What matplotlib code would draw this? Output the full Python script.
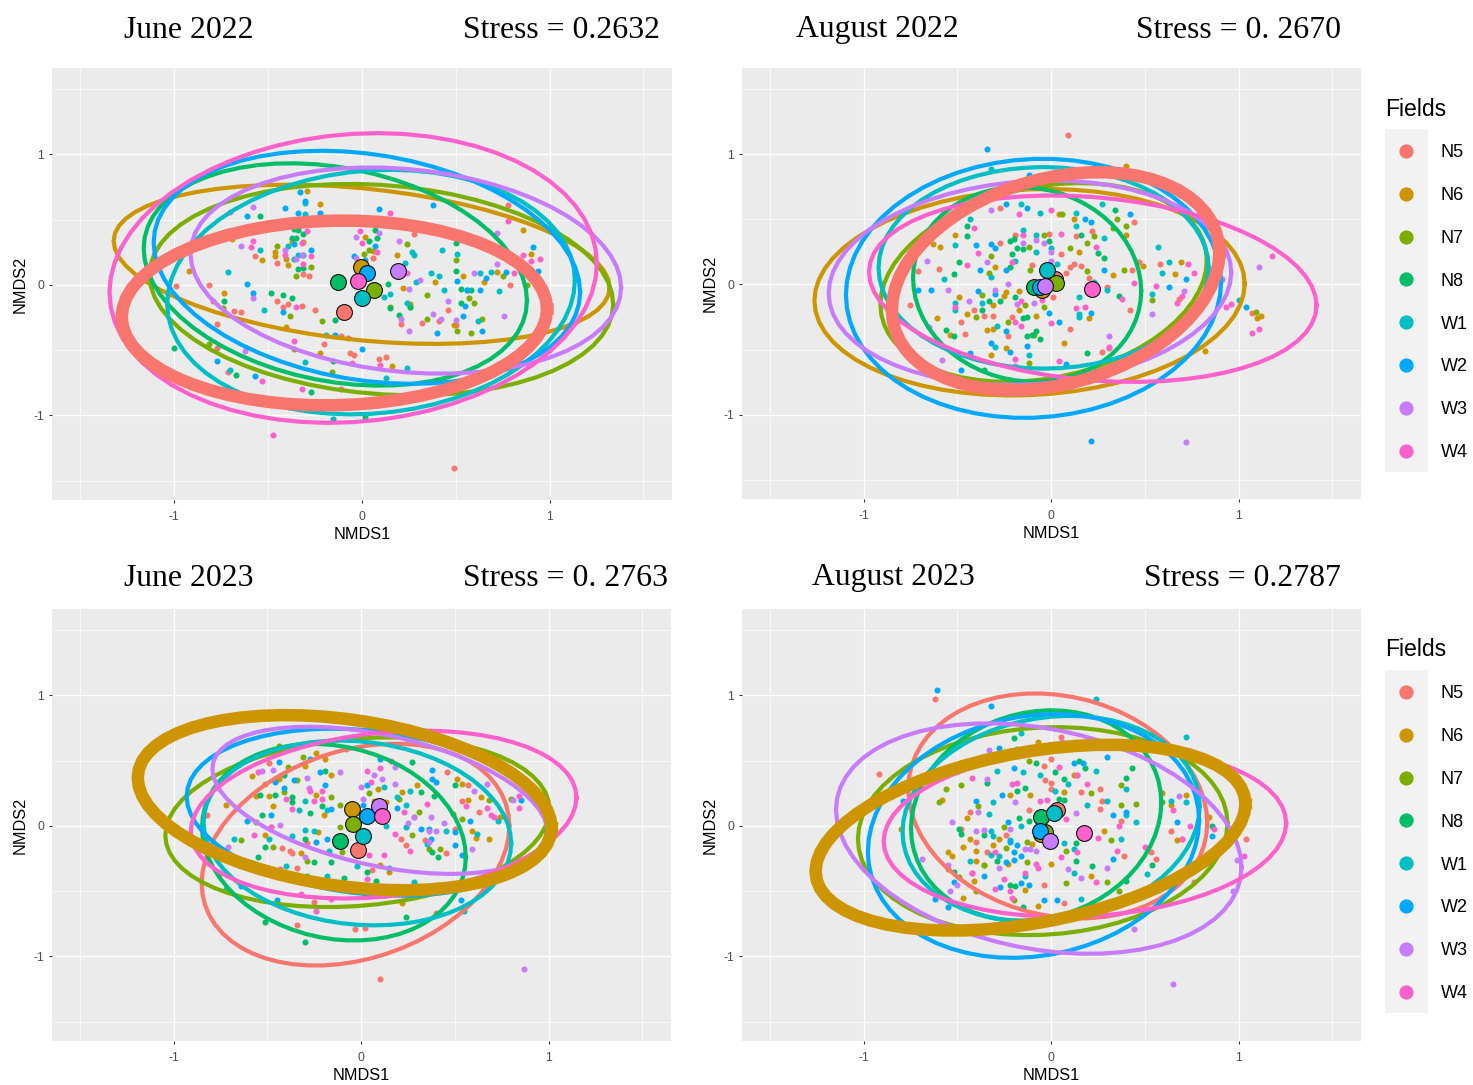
import numpy as np
import matplotlib
matplotlib.use("Agg")
import matplotlib.pyplot as plt

W, H = 1473, 1085

fields = ['N5', 'N6', 'N7', 'N8', 'W1', 'W2', 'W3', 'W4']
colours = ['#F8766D', '#CD9600', '#7CAE00', '#00BE67',
           '#00BFC4', '#00A9FF', '#C77CFF', '#FF61CC']

# June 2022
jun22_N5 = [(-0.99,-0.01),(-0.81,0.0),(-0.79,-0.12),(-0.68,-0.20),(-0.64,-0.21),(-0.77,-0.30),(-0.77,-0.48),(-0.71,-0.67),(-0.45,-0.12),(-0.42,-0.17),(-0.39,-0.15),(-0.32,-0.16),(-0.25,-0.19),(-0.45,0.17),(-0.57,0.22),(-0.28,0.07),(-0.31,0.08),(-0.20,-0.45),(-0.11,-0.39),(-0.07,-0.41),(-0.06,-0.52),(-0.04,-0.54),(0.09,-0.57),(0.13,-0.55),(0.21,-0.30),(0.32,-0.29),(0.41,-0.28),(0.46,-0.19),(0.50,-0.31),(0.49,-1.40),(0.28,0.39),(0.06,0.21),(0.79,0.0),(0.78,0.61)]
jun22_N6 = [(-0.92,0.11),(-0.73,-0.06),(-0.69,0.35),(-0.67,0.68),(-0.53,0.19),(-0.46,0.25),(-0.46,0.22),(-0.40,0.20),(-0.39,0.15),(-0.37,0.33),(-0.31,0.33),(-0.29,0.72),(-0.22,0.62),(0.02,0.37),(0.06,0.26),(0.19,0.23),(0.22,-0.02),(0.26,-0.15),(0.39,0.02),(0.54,0.07),(0.65,0.02),(0.72,0.10),(0.86,0.42),(0.90,0.24),(-0.22,-0.52),(0.16,-0.62),(-0.40,-0.32),(0.49,-0.31)]
jun22_N7 = [(-0.74,-0.18),(-0.45,0.30),(-0.38,-0.24),(-0.35,0.07),(-0.27,0.14),(-0.21,-0.28),(0.01,0.24),(0.15,-0.17),(0.24,0.31),(0.26,-0.17),(0.35,-0.08),(0.35,-0.26),(0.50,0.19),(0.57,-0.10),(0.60,-0.14),(0.58,-0.37),(0.51,-0.35),(0.64,-0.26),(0.75,0.07),(0.88,0.0),(-0.81,-0.45),(-0.36,-0.49),(-0.16,-0.67),(0.04,0.27)]
jun22_N8 = [(-1.00,-0.48),(-0.73,-0.12),(-0.67,-0.69),(-0.54,0.53),(-0.48,-0.06),(-0.42,-0.08),(-0.37,-0.10),(-0.36,0.43),(-0.34,0.42),(-0.37,0.36),(-0.35,0.36),(-0.31,0.39),(-0.34,0.12),(-0.31,0.13),(-0.27,-0.82),(-0.14,-0.27),(0.07,0.42),(0.08,0.36),(0.04,0.34),(0.14,0.01),(0.15,-0.18),(0.20,-0.23),(0.26,-0.17),(0.50,0.32),(0.50,0.11),(0.53,-0.03),(0.58,-0.04),(0.53,-0.14),(0.02,-1.01),(-0.15,-0.58)]
jun22_W1 = [(-0.71,0.10),(-0.54,0.27),(-0.70,-0.65),(-0.52,-0.19),(-0.39,0.30),(-0.36,0.20),(-0.34,0.23),(-0.31,0.23),(-0.30,0.54),(-0.19,-0.38),(-0.30,-0.59),(0.12,-0.09),(0.15,-0.07),(0.24,-0.14),(0.23,0.17),(0.27,0.25),(0.28,0.23),(0.29,0.02),(0.37,0.09),(0.41,0.07),(0.43,0.27),(0.44,-0.04),(0.51,0.24),(0.56,-0.04),(0.63,0.09),(0.69,0.10),(0.73,-0.05),(0.62,-0.28),(0.13,-0.71),(0.24,-0.64),(-0.15,-1.03),(-0.30,0.63)]
jun22_W2 = [(-0.61,0.01),(-0.61,0.53),(-0.58,-0.06),(-0.41,0.59),(-0.42,-0.21),(-0.30,0.64),(-0.33,0.71),(-0.34,0.55),(-0.36,0.31),(-0.27,0.27),(-0.77,-0.58),(-0.57,-0.70),(-0.14,-0.38),(0.0,-0.49),(0.09,0.58),(-0.04,0.22),(0.07,0.30),(0.02,0.19),(0.38,0.61),(0.40,-0.37),(0.51,0.03),(0.54,-0.24),(0.55,-0.16),(0.56,-0.04),(0.63,-0.04),(0.64,-0.35),(0.66,0.05),(0.77,0.10),(0.91,0.29),(0.94,0.11),(-0.22,0.55)]
jun22_W3 = [(-0.58,0.60),(-0.64,0.30),(-0.58,-0.10),(-0.41,0.27),(-0.32,0.23),(-0.03,0.37),(-0.03,0.21),(0.09,0.40),(0.20,0.34),(0.25,-0.03),(0.31,0.04),(0.21,-0.26),(0.25,-0.35),(0.38,-0.22),(0.42,-0.26),(0.46,-0.12),(0.50,-0.27),(0.60,0.09),(0.72,0.16),(0.76,-0.24),(-0.62,-0.51),(-0.35,0.20),(0.72,0.40)]
jun22_W4 = [(-0.59,0.29),(-0.58,0.34),(-0.41,0.23),(-0.31,0.16),(-0.32,0.32),(-0.27,0.22),(-0.29,0.41),(-0.01,0.41),(0.0,0.32),(0.08,0.25),(0.15,0.55),(0.24,0.09),(-0.35,-0.17),(-0.36,-0.43),(-0.53,-0.74),(-0.32,-0.80),(-0.47,-1.15),(-0.05,-0.60),(0.10,-0.61),(0.78,0.49),(0.86,0.23),(0.90,0.18),(0.95,0.20),(0.81,0.09),(-0.11,-0.80),(-0.70,0.56)]
jun22_mean_x = [-0.096, -0.004, 0.064, -0.124, 0.004, 0.03, 0.192, -0.019]
jun22_mean_y = [-0.211, 0.14, -0.041, 0.025, -0.104, 0.094, 0.104, 0.028]
jun22_ell_x = [-0.145, 0.0, 0.105, -0.14, 0.05, 0.028, 0.235, -0.045]
jun22_ell_y = [-0.215, 0.158, -0.036, 0.08, -0.055, 0.135, 0.11, 0.053]
jun22_ell_rx = [1.132, 1.32, 1.234, 1.02, 1.085, 1.135, 1.146, 1.297]
jun22_ell_ry = [0.708, 0.61, 0.81, 0.852, 0.937, 0.893, 0.79, 1.11]
jun22_ell_k = [0.03, -0.178, -0.112, -0.2, 0.09, -0.19, -0.13, 0.11]

# August 2022
aug22_N5 = [(0.09,1.15),(-0.75,-0.16),(-0.71,0.10),(-0.60,0.12),(-0.48,-0.29),(-0.46,-0.38),(-0.41,-0.20),(-0.36,-0.24),(-0.31,-0.24),(-0.27,0.32),(-0.27,0.59),(-0.19,0.38),(-0.23,-0.40),(-0.21,-0.25),(-0.10,0.15),(-0.01,0.39),(0.01,-0.10),(0.05,0.23),(0.08,0.09),(0.10,0.13),(0.12,0.16),(0.13,0.37),(0.16,0.14),(0.10,-0.34),(0.20,0.05),(0.22,0.41),(0.27,-0.52),(0.31,-0.49),(0.30,-0.02),(0.42,-0.20),(0.43,0.11),(0.44,0.48),(0.47,0.17),(0.58,0.16),(0.68,-0.11),(1.07,-0.22)]
aug22_N6 = [(-0.59,0.29),(-0.63,0.31),(-0.51,0.38),(-0.49,-0.10),(-0.61,-0.26),(-0.54,-0.39),(-0.45,-0.23),(-0.34,-0.35),(-0.31,-0.34),(-0.32,-0.54),(-0.30,0.13),(-0.31,-0.16),(-0.25,-0.09),(-0.24,-0.06),(-0.17,-0.05),(-0.17,-0.20),(-0.24,-0.49),(-0.08,-0.24),(0.04,0.54),(0.12,0.50),(0.15,0.25),(0.07,-0.45),(0.20,-0.26),(0.33,0.07),(0.40,0.38),(0.40,0.91),(0.49,0.14),(0.66,0.08),(0.69,0.17),(0.82,-0.51),(1.10,-0.26),(1.12,-0.24)]
aug22_N7 = [(-0.37,-0.08),(-0.40,-0.25),(-0.33,0.09),(-0.32,0.22),(-0.23,-0.29),(-0.14,-0.16),(-0.12,0.29),(-0.11,0.11),(-0.04,0.38),(-0.04,-0.17),(0.06,0.54),(0.10,0.28),(0.19,0.32),(0.19,0.10),(0.23,0.37),(0.35,0.50),(0.33,0.43),(0.40,0.45),(0.39,0.11),(0.54,-0.12),(1.09,-0.21),(-0.12,-0.60),(-0.09,-0.39)]
aug22_N8 = [(-0.49,0.17),(-0.52,0.08),(-0.56,-0.35),(-0.52,-0.40),(-0.45,0.45),(-0.45,0.37),(-0.37,-0.20),(-0.36,-0.66),(-0.33,-0.13),(-0.27,-0.13),(-0.22,0.33),(-0.20,0.35),(-0.21,0.23),(-0.18,0.28),(-0.15,0.27),(-0.22,0.13),(-0.19,-0.10),(-0.15,-0.26),(-0.13,-0.25),(-0.13,-0.40),(-0.10,-0.39),(-0.06,-0.42),(-0.08,-0.36),(-0.01,0.33),(0.16,0.38),(0.25,0.24),(0.28,0.20),(0.19,-0.53),(0.36,-0.09),(0.34,0.57)]
aug22_W1 = [(-0.51,0.30),(-0.57,0.04),(-0.51,-0.14),(-0.51,-0.20),(-0.37,-0.14),(-0.43,0.50),(-0.32,0.06),(-0.29,-0.32),(-0.30,-0.48),(-0.19,0.18),(-0.15,0.42),(-0.16,0.62),(-0.08,0.25),(-0.08,0.38),(-0.06,0.55),(0.03,0.16),(0.0,0.28),(0.13,0.55),(0.13,0.45),(0.15,-0.10),(0.15,-0.23),(0.15,-0.25),(0.27,0.62),(0.28,0.36),(0.30,-0.04),(0.57,0.29),(0.59,0.09),(0.54,-0.07),(0.63,0.17),(1.0,-0.12),(-0.12,-0.54),(-0.32,0.89),(0.23,0.02)]
aug22_W2 = [(-0.34,1.04),(0.21,-1.20),(-0.71,-0.04),(-0.64,-0.04),(-0.40,0.30),(-0.32,0.31),(-0.30,0.28),(-0.38,0.11),(-0.39,-0.05),(-0.30,-0.07),(-0.24,0.11),(-0.24,0.62),(-0.13,0.59),(-0.12,0.84),(-0.32,-0.45),(-0.24,-0.36),(-0.22,-0.52),(-0.13,-0.47),(-0.01,-0.22),(0.04,-0.29),(0.08,-0.61),(0.18,0.50),(0.21,0.48),(0.21,-0.22),(0.28,0.11),(0.42,0.54),(0.63,-0.02),(0.72,0.04),(1.04,-0.17),(-0.48,-0.66),(-0.43,-0.53)]
aug22_W3 = [(0.72,-1.21),(-0.66,0.18),(-0.55,-0.04),(-0.44,-0.13),(-0.34,0.17),(-0.32,0.57),(-0.30,-0.04),(-0.23,0.0),(-0.18,-0.15),(-0.15,0.32),(-0.08,0.34),(-0.04,0.32),(-0.09,-0.14),(0.0,0.25),(0.0,0.18),(0.31,-0.40),(0.54,-0.23),(0.71,-0.05),(0.91,0.04),(1.11,0.13),(-0.58,-0.58),(-0.65,-0.33)]
aug22_W4 = [(-0.45,0.15),(-0.41,0.43),(-0.39,0.24),(-0.51,-0.17),(-0.21,0.17),(-0.17,0.54),(-0.15,0.38),(-0.19,-0.29),(-0.16,-0.32),(-0.16,-0.13),(-0.05,-0.12),(0.0,-0.30),(0.0,0.57),(0.05,0.39),(0.13,-0.18),(0.18,-0.17),(0.24,0.29),(0.31,-0.48),(0.38,-0.11),(0.44,0.01),(0.56,-0.01),(0.73,0.16),(0.76,0.09),(0.67,-0.14),(0.70,-0.09),(0.93,-0.17),(0.96,-0.15),(1.07,-0.37),(1.11,-0.34),(1.18,0.22),(-0.19,-0.57),(0.04,-0.59),(-0.19,-0.63)]
aug22_mean_x = [0.019, -0.051, 0.026, -0.092, -0.021, -0.06, -0.03, 0.218]
aug22_mean_y = [0.043, -0.046, 0.01, -0.02, 0.113, -0.02, -0.015, -0.033]
aug22_ell_x = [0.024, -0.115, -0.04, -0.128, -0.04, -0.094, -0.113, 0.222]
aug22_ell_y = [0.025, -0.06, 0.015, 0.0, 0.127, -0.03, 0.013, -0.033]
aug22_ell_rx = [0.873, 1.147, 0.87, 0.608, 0.88, 1.0, 1.073, 1.193]
aug22_ell_ry = [0.837, 0.793, 0.763, 0.748, 0.774, 0.995, 0.785, 0.716]
aug22_ell_k = [0.22, 0.065, 0.17, -0.05, 0.0, 0.05, 0.08, -0.128]

# June 2023
jun23_N5 = [(-0.49,0.48),(0.10,-1.17),(-0.34,-0.76),(-0.03,-0.79),(0.02,-0.78),(-0.42,-0.17),(-0.38,-0.19),(-0.37,-0.21),(-0.29,-0.13),(-0.34,-0.32),(-0.43,-0.33),(-0.25,-0.58),(-0.08,0.59),(0.21,-0.10),(0.24,-0.15),(0.34,-0.11),(0.45,-0.21),(0.46,0.41),(0.57,0.31),(0.54,0.19),(0.63,0.11),(0.50,-0.02),(0.06,-0.34),(0.40,-0.67),(-0.48,-0.01),(-0.82,0.08)]
jun23_N6 = [(-0.58,0.38),(-0.56,0.23),(-0.49,0.23),(-0.51,0.32),(-0.44,0.36),(-0.47,0.15),(-0.30,0.46),(-0.24,0.56),(-0.19,0.51),(-0.16,0.39),(-0.24,0.24),(-0.20,0.08),(-0.23,-0.05),(-0.32,-0.21),(-0.72,0.16),(-0.51,-0.07),(0.07,0.19),(0.09,0.28),(0.10,-0.30),(0.15,-0.35),(0.22,-0.59),(0.22,0.26),(0.30,0.31),(0.51,0.36),(0.54,0.32),(0.57,0.20),(0.59,-0.04),(0.61,-0.09),(0.68,-0.10),(0.64,0.22),(0.74,0.07),(0.13,0.18)]
jun23_N7 = [(-0.64,-0.11),(-0.76,-0.37),(-0.56,0.03),(-0.41,0.26),(-0.39,0.45),(-0.44,0.61),(-0.31,0.53),(-0.34,0.35),(-0.16,0.22),(-0.11,0.16),(-0.11,-0.01),(-0.10,-0.20),(0.04,0.25),(0.20,0.21),(0.31,0.11),(0.27,-0.07),(0.36,-0.18),(0.42,-0.18),(0.49,0.09),(0.54,0.05),(0.68,0.20),(0.80,0.21),(0.28,0.07),(-0.47,-0.16),(-0.29,-0.27)]
jun23_N8 = [(-0.54,0.24),(-0.53,0.08),(-0.46,0.24),(-0.41,0.39),(-0.37,0.22),(-0.37,0.18),(-0.27,0.10),(-0.21,0.15),(-0.19,0.42),(-0.30,-0.10),(-0.51,-0.16),(-0.55,-0.24),(-0.30,-0.89),(-0.25,-0.28),(-0.16,-0.28),(-0.09,-0.40),(0.03,-0.35),(0.08,-0.42),(0.24,-0.70),(0.27,0.49),(0.32,0.26),(0.39,0.23),(0.38,-0.20),(0.41,-0.24),(0.50,0.31),(-0.51,-0.74)]
jun23_W1 = [(-0.68,-0.10),(-0.72,-0.48),(-0.49,-0.10),(-0.40,-0.31),(-0.37,-0.08),(-0.33,0.12),(-0.30,0.19),(-0.30,-0.03),(-0.25,-0.04),(-0.17,-0.19),(-0.18,-0.38),(-0.18,0.12),(-0.02,-0.31),(0.12,0.30),(0.13,0.0),(0.19,0.22),(0.24,0.16),(0.26,0.27),(0.28,-0.43),(0.45,-0.04),(0.35,-0.14),(0.62,-0.06),(0.73,0.04),(0.24,-0.01),(-0.29,-0.38),(0.55,-0.65)]
jun23_W2 = [(-0.44,0.49),(-0.46,0.34),(-0.41,0.29),(-0.36,0.35),(-0.48,0.08),(-0.61,0.04),(-0.27,0.51),(-0.22,0.41),(-0.19,0.31),(-0.16,0.13),(-0.24,-0.12),(-0.18,-0.10),(0.10,0.51),(0.03,0.31),(0.19,0.14),(0.38,0.43),(0.38,0.36),(0.40,0.34),(0.32,-0.02),(0.36,-0.02),(0.37,-0.10),(0.50,-0.05),(0.50,-0.15),(0.58,0.04),(0.54,-0.22),(0.53,-0.57),(0.85,0.20),(-0.45,-0.57),(-0.64,-0.46),(0.15,-0.32),(0.01,0.16)]
jun23_W3 = [(0.87,-1.10),(-0.71,-0.16),(-0.53,0.42),(-0.47,0.43),(-0.29,0.37),(-0.28,0.29),(-0.43,0.01),(-0.11,0.41),(0.0,0.30),(0.07,0.39),(0.11,0.36),(0.18,0.45),(0.18,0.32),(0.01,0.21),(0.25,0.02),(0.28,0.07),(0.36,-0.04),(0.40,-0.04),(0.44,0.02),(0.37,0.07),(0.59,-0.18),(0.60,0.27),(0.67,0.32),(-0.30,-0.24),(0.36,-0.12),(0.81,0.20)]
jun23_W4 = [(-0.57,-0.07),(-0.55,0.41),(-0.40,0.21),(-0.37,0.13),(-0.25,0.19),(-0.21,0.27),(-0.21,0.21),(-0.27,0.27),(-0.48,-0.01),(-0.32,-0.52),(-0.24,-0.65),(0.03,0.42),(0.05,0.34),(0.10,0.44),(0.04,-0.22),(0.12,-0.22),(0.18,-0.06),(0.23,0.11),(0.26,-0.19),(0.35,0.17),(0.56,0.15),(0.67,0.14),(0.69,0.08),(0.84,0.14),(0.84,0.23),(0.03,-0.41),(0.16,0.50),(-0.16,-0.56),(0.71,0.07)]
jun23_mean_x = [-0.017, -0.049, -0.041, -0.113, 0.009, 0.03, 0.096, 0.109]
jun23_mean_y = [-0.184, 0.13, 0.015, -0.112, -0.079, 0.079, 0.156, 0.079]
jun23_ell_x = [-0.03, -0.088, -0.02, -0.145, -0.02, 0.03, 0.1, 0.12]
jun23_ell_y = [-0.22, 0.178, 0.028, -0.125, -0.054, 0.105, 0.196, 0.087]
jun23_ell_rx = [0.82, 1.103, 1.024, 0.703, 0.82, 0.96, 0.893, 1.028]
jun23_ell_ry = [0.85, 0.671, 0.65, 0.753, 0.708, 0.64, 0.564, 0.643]
jun23_ell_k = [0.22, -0.19, 0.1, -0.115, -0.08, -0.12, -0.24, 0.13]

# August 2023
aug23_N5 = [(-0.62,0.97),(-0.92,0.40),(-0.48,-0.02),(-0.43,0.11),(-0.40,-0.12),(-0.42,-0.36),(-0.34,-0.20),(-0.12,0.12),(-0.04,0.46),(0.0,0.51),(0.05,0.68),(-0.03,0.35),(0.0,0.33),(0.0,0.28),(-0.04,-0.45),(0.07,-0.59),(0.16,0.26),(0.26,0.28),(0.27,0.19),(0.26,0.13),(0.37,0.04),(0.39,-0.23),(0.53,-0.20),(0.56,-0.25),(0.64,-0.04),(0.70,-0.10),(0.76,-0.43),(1.04,-0.10),(0.60,-0.42),(0.14,0.39),(-0.24,-0.07)]
aug23_N6 = [(-0.80,-0.02),(-0.58,0.20),(-0.55,-0.20),(-0.53,-0.23),(-0.55,-0.33),(-0.47,-0.16),(-0.43,-0.10),(-0.40,-0.19),(-0.40,-0.27),(-0.36,-0.30),(-0.41,-0.42),(-0.47,-0.55),(-0.45,0.06),(-0.31,-0.15),(-0.28,-0.10),(-0.22,0.24),(-0.11,0.24),(-0.07,0.64),(-0.23,-0.29),(-0.10,-0.14),(-0.14,-0.49),(-0.07,-0.61),(0.0,-0.29),(0.07,0.26),(0.12,0.39),(0.21,-0.38),(0.28,-0.04),(0.59,0.25),(0.64,0.16),(0.72,0.24),(0.67,-0.11),(0.70,-0.35),(0.84,0.07)]
aug23_N7 = [(-0.60,0.18),(-0.56,0.28),(-0.48,0.31),(-0.39,0.15),(-0.49,-0.39),(-0.36,-0.30),(-0.25,-0.01),(-0.24,-0.17),(-0.13,-0.28),(-0.13,-0.12),(-0.12,0.50),(0.05,0.60),(0.08,-0.19),(0.08,-0.44),(0.21,0.25),(0.30,-0.43),(0.32,-0.11),(0.37,0.16),(0.37,0.31),(0.45,0.17),(0.36,-0.50),(0.59,0.18),(-0.20,-0.57),(-0.40,-0.50)]
aug23_N8 = [(-0.49,-0.02),(-0.48,-0.06),(-0.52,-0.35),(-0.36,-0.07),(-0.34,0.33),(-0.29,-0.27),(-0.20,0.67),(-0.18,0.27),(-0.14,0.29),(-0.17,0.06),(-0.12,0.04),(-0.22,-0.45),(-0.19,-0.46),(-0.15,-0.62),(-0.08,0.48),(0.02,0.41),(0.07,0.36),(0.04,0.21),(0.07,0.20),(0.13,-0.13),(0.13,-0.27),(0.22,-0.31),(0.15,0.50),(0.18,0.44),(0.40,0.37),(0.43,0.44),(0.54,-0.30),(0.86,0.0),(0.40,-0.42)]
aug23_W1 = [(-0.16,0.71),(-0.18,0.59),(-0.29,0.42),(-0.15,0.41),(-0.06,0.39),(0.09,0.32),(0.02,0.27),(0.19,0.16),(0.24,0.42),(0.24,0.97),(0.30,0.19),(0.40,0.28),(0.40,0.08),(0.45,0.03),(0.37,-0.10),(0.72,0.68),(0.72,0.18),(0.64,0.19),(0.51,-0.37),(0.16,-0.56),(0.12,-0.18),(0.07,-0.13),(0.12,-0.36),(-0.33,0.09),(-0.31,0.18),(-0.32,-0.04),(-0.31,-0.08),(-0.43,-0.27),(-0.28,-0.23),(-0.22,-0.11),(-0.32,-0.22),(-0.14,-0.38),(-0.16,0.0)]
aug23_W2 = [(-0.61,1.04),(-0.32,0.92),(-0.28,0.60),(-0.40,0.19),(-0.26,0.24),(-0.20,0.44),(0.12,0.48),(0.17,0.48),(0.30,0.53),(-0.23,0.03),(-0.20,-0.20),(-0.18,-0.15),(-0.22,-0.12),(-0.16,-0.23),(-0.20,-0.26),(-0.36,-0.38),(-0.27,-0.47),(-0.16,-0.44),(-0.12,-0.45),(-0.04,-0.57),(0.03,-0.57),(-0.62,-0.56),(-0.55,-0.62),(-0.52,-0.43),(-0.79,0.19),(0.33,0.08),(0.40,0.11),(0.33,-0.25),(0.67,0.03),(0.86,-0.08),(-0.24,-0.28)]
aug23_W3 = [(0.65,-1.21),(-0.53,0.03),(-0.69,-0.25),(-0.55,-0.30),(-0.54,-0.50),(-0.50,-0.45),(-0.39,0.11),(-0.40,-0.04),(-0.36,-0.03),(-0.33,0.58),(-0.34,0.36),(-0.28,-0.32),(-0.19,0.18),(-0.22,-0.02),(-0.14,-0.18),(-0.11,-0.18),(-0.08,-0.19),(0.06,0.64),(0.13,0.10),(0.09,-0.33),(0.16,-0.40),(0.30,-0.32),(0.68,0.23),(0.99,-0.26),(0.97,-0.50),(0.44,-0.79)]
aug23_W4 = [(-0.42,0.37),(-0.21,0.32),(-0.18,0.33),(0.04,0.45),(0.14,0.39),(0.19,0.32),(0.08,0.05),(-0.06,0.19),(-0.02,0.20),(0.25,-0.09),(0.36,0.0),(0.35,-0.19),(0.05,-0.24),(0.14,-0.20),(-0.08,-0.29),(-0.07,-0.32),(-0.25,-0.41),(-0.30,-0.48),(-0.22,-0.50),(-0.21,-0.55),(0.24,-0.43),(0.50,-0.16),(0.65,0.12),(0.74,0.0),(0.70,-0.10),(0.87,-0.02),(1.03,-0.23),(-0.42,-0.36),(-0.14,-0.36),(-0.30,-0.20)]
aug23_mean_x = [0.03, -0.056, -0.034, -0.056, 0.015, -0.06, -0.006, 0.176]
aug23_mean_y = [0.125, -0.061, -0.048, 0.071, 0.097, -0.036, -0.112, -0.051]
aug23_ell_x = [0.035, -0.11, -0.045, -0.08, 0.0, -0.094, -0.066, 0.18]
aug23_ell_y = [0.153, -0.09, -0.04, 0.08, 0.053, -0.077, -0.097, -0.048]
aug23_ell_rx = [0.797, 1.146, 0.985, 0.667, 0.792, 0.883, 1.081, 1.073]
aug23_ell_ry = [0.862, 0.712, 0.797, 0.806, 0.79, 0.934, 0.883, 0.65]
aug23_ell_k = [-0.13, 0.258, 0.06, 0.1, 0.1, 0.12, -0.22, 0.07]

ticks = [-1, 0, 1]
tick_labels = ['-1', '0', '1']
minor_ticks = [-1.5, -0.5, 0.5, 1.5]

plt.rcParams['font.family'] = ['Liberation Sans', 'DejaVu Sans']
fig = plt.figure(figsize=(W / 100, H / 100), dpi=100, facecolor='white')


def px_axes(left, top, right, bottom, **kw):
    return fig.add_axes([left / W, 1 - bottom / H, (right - left) / W, (bottom - top) / H], **kw)


def draw_panel(box, pts, mean_x, mean_y, ell_x, ell_y, ell_rx, ell_ry, ell_k, thick):
    ax = px_axes(*box)
    ax.set_facecolor('#EBEBEB')
    for s in ax.spines.values():
        s.set_visible(False)
    ax.set_xlim(-1.648, 1.652)
    ax.set_ylim(-1.648, 1.662)
    ax.set_xticks(ticks)
    ax.set_xticklabels(tick_labels)
    ax.set_yticks(ticks)
    ax.set_yticklabels(tick_labels)
    ax.set_xticks(minor_ticks, minor=True)
    ax.set_yticks(minor_ticks, minor=True)
    ax.grid(True, which='major', color='white', lw=0.95, zorder=0)
    ax.grid(True, which='minor', color='white', lw=0.5, zorder=0)
    ax.set_axisbelow(True)
    ax.tick_params(which='major', length=2.5, width=0.8, color='#333333',
                   labelcolor='#4D4D4D', labelsize=8.8)
    ax.tick_params(axis='x', which='major', pad=5.5)
    ax.tick_params(axis='y', which='major', pad=3)
    ax.tick_params(which='minor', length=0)
    ax.set_xlabel('NMDS1', fontsize=11.7, labelpad=2.5)
    ax.set_ylabel('NMDS2', fontsize=11.7, labelpad=4)

    for i, p in enumerate(pts):
        xy = np.array(p)
        ax.scatter(xy[:, 0], xy[:, 1], s=19, color=colours[i], linewidths=0, zorder=2)

    t = np.linspace(0, 2 * np.pi, 61)
    order = [i for i in range(8) if i != thick] + [thick]
    for n, i in enumerate(order):
        phi = np.arcsin(ell_k[i] / ell_ry[i])
        ex = ell_x[i] + ell_rx[i] * np.cos(t)
        ey = ell_y[i] + ell_ry[i] * np.sin(t + phi)
        ax.plot(ex, ey, color=colours[i], lw=9.0 if i == thick else 3.0,
                solid_joinstyle='round', zorder=3 + n * 0.01)

    for i in range(8):
        ax.scatter(mean_x[i], mean_y[i], s=130, color=colours[i], edgecolors='#111111',
                   linewidths=0.8, zorder=4 + i * 0.01)
    return ax


def draw_legend(top):
    fig.text(1385 / W, 1 - (top - 20) / H, 'Fields', fontsize=16.6, ha='left', va='center', color='black')
    ax = px_axes(1385, top, 1428, top + 343)
    ax.set_facecolor('#F2F2F2')
    for s in ax.spines.values():
        s.set_visible(False)
    ax.set_xticks([])
    ax.set_yticks([])
    ax.set_xlim(0, 1)
    ax.set_ylim(8, 0)
    for i, name in enumerate(fields):
        ax.scatter(0.49, i + 0.51, s=105, color=colours[i], linewidths=0)
        ax.text(1.3, i + 0.55, name, fontsize=13, ha='left', va='center', color='black', clip_on=False)


draw_panel((52, 68, 672, 500),
           [jun22_N5, jun22_N6, jun22_N7, jun22_N8, jun22_W1, jun22_W2, jun22_W3, jun22_W4],
           jun22_mean_x, jun22_mean_y, jun22_ell_x, jun22_ell_y, jun22_ell_rx, jun22_ell_ry, jun22_ell_k, 0)
draw_panel((742, 68, 1361, 499),
           [aug22_N5, aug22_N6, aug22_N7, aug22_N8, aug22_W1, aug22_W2, aug22_W3, aug22_W4],
           aug22_mean_x, aug22_mean_y, aug22_ell_x, aug22_ell_y, aug22_ell_rx, aug22_ell_ry, aug22_ell_k, 0)
draw_panel((52, 609, 671, 1041),
           [jun23_N5, jun23_N6, jun23_N7, jun23_N8, jun23_W1, jun23_W2, jun23_W3, jun23_W4],
           jun23_mean_x, jun23_mean_y, jun23_ell_x, jun23_ell_y, jun23_ell_rx, jun23_ell_ry, jun23_ell_k, 1)
draw_panel((742, 609, 1361, 1041),
           [aug23_N5, aug23_N6, aug23_N7, aug23_N8, aug23_W1, aug23_W2, aug23_W3, aug23_W4],
           aug23_mean_x, aug23_mean_y, aug23_ell_x, aug23_ell_y, aug23_ell_rx, aug23_ell_ry, aug23_ell_k, 1)

draw_legend(129)
draw_legend(670)

titles = [(124, 30, 'June 2022'), (463, 30, 'Stress = 0.2632'),
          (796, 30, 'August 2022'), (1136, 30, 'Stress = 0. 2670'),
          (124, 578, 'June 2023'), (463, 578, 'Stress = 0. 2763'),
          (812, 578, 'August 2023'), (1144, 578, 'Stress = 0.2787')]
for x, y, s in titles:
    fig.text(x / W, 1 - y / H, s, fontsize=22.9, family='Liberation Serif',
             ha='left', va='center', color='black')

fig.savefig('out.png', dpi=100)
